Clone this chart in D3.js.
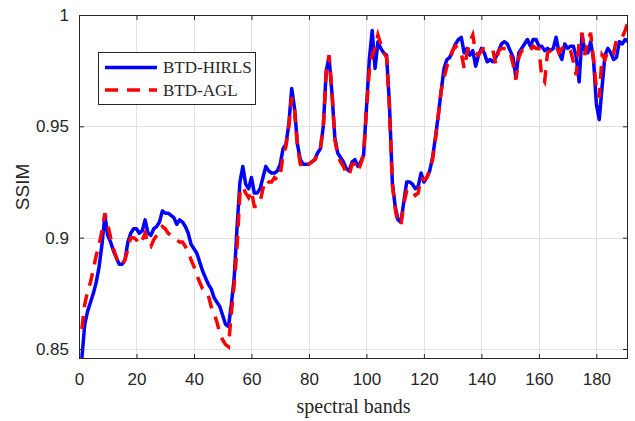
<!DOCTYPE html>
<html>
<head>
<meta charset="utf-8">
<script src="https://cdn.jsdelivr.net/npm/d3@7"></script>
<style>
  html, body { margin: 0; padding: 0; background: #fff; }
  svg { display: block; }
</style>
</head>
<body>
<svg id="chart" width="635" height="421"></svg>
<script>
// SSIM per spectral band for the two reconstruction methods
const bandCount = 191;
const bands = d3.range(1, bandCount + 1);

const hirls = [
  0.846, 0.861, 0.867, 0.871, 0.875, 0.880, 0.887, 0.897, 0.910, 0.901,
  0.898, 0.894, 0.891, 0.888, 0.888, 0.890, 0.898, 0.902, 0.904, 0.904,
  0.902, 0.903, 0.908, 0.902, 0.901, 0.904, 0.905, 0.907, 0.912, 0.911,
  0.911, 0.910, 0.909, 0.906, 0.908, 0.907, 0.905, 0.902, 0.897, 0.895,
  0.893, 0.889, 0.885, 0.882, 0.879, 0.877, 0.873, 0.871, 0.869, 0.865,
  0.861, 0.860, 0.870, 0.882, 0.905, 0.925, 0.932, 0.924, 0.922, 0.927,
  0.920, 0.920, 0.922, 0.927, 0.932, 0.930, 0.929, 0.929, 0.930, 0.933,
  0.940, 0.942, 0.951, 0.967, 0.958, 0.942, 0.935, 0.933, 0.933, 0.933,
  0.934, 0.935, 0.938, 0.940, 0.950, 0.975, 0.981, 0.965, 0.945, 0.938,
  0.936, 0.934, 0.931, 0.930, 0.934, 0.935, 0.932, 0.934, 0.937, 0.958,
  0.980, 0.993, 0.976, 0.988, 0.985, 0.983, 0.982, 0.960, 0.925, 0.914,
  0.908, 0.907, 0.916, 0.925, 0.925, 0.924, 0.922, 0.923, 0.929, 0.925,
  0.927, 0.930, 0.936, 0.945, 0.955, 0.966, 0.976, 0.980, 0.981, 0.984,
  0.987, 0.989, 0.990, 0.983, 0.985, 0.982, 0.984, 0.977, 0.982, 0.985,
  0.983, 0.979, 0.980, 0.979, 0.981, 0.984, 0.987, 0.988, 0.987, 0.984,
  0.981, 0.972, 0.983, 0.985, 0.987, 0.989, 0.986, 0.989, 0.989, 0.986,
  0.986, 0.984, 0.985, 0.984, 0.985, 0.990, 0.983, 0.980, 0.987, 0.985,
  0.986, 0.986, 0.981, 0.970, 0.991, 0.984, 0.983, 0.988, 0.980, 0.960,
  0.953, 0.968, 0.982, 0.985, 0.983, 0.980, 0.981, 0.988, 0.987, 0.989,
  0.988
];

const agl = [
  0.859, 0.870, 0.876, 0.880, 0.886, 0.892, 0.897, 0.903, 0.911, 0.906,
  0.900, 0.895, 0.891, 0.888, 0.888, 0.890, 0.895, 0.900, 0.900, 0.899,
  0.897, 0.899, 0.902, 0.897, 0.896, 0.899, 0.901, 0.903, 0.905, 0.904,
  0.902, 0.901, 0.900, 0.899, 0.898, 0.898, 0.896, 0.894, 0.890, 0.887,
  0.883, 0.880, 0.877, 0.876, 0.874, 0.869, 0.866, 0.862, 0.857, 0.854,
  0.852, 0.851, 0.866, 0.879, 0.896, 0.920, 0.923, 0.920, 0.918, 0.921,
  0.914, 0.914, 0.916, 0.922, 0.926, 0.925, 0.925, 0.927, 0.926, 0.928,
  0.937, 0.941, 0.950, 0.963, 0.957, 0.941, 0.933, 0.931, 0.932, 0.933,
  0.934, 0.935, 0.937, 0.940, 0.950, 0.974, 0.982, 0.966, 0.944, 0.937,
  0.934, 0.932, 0.929, 0.928, 0.933, 0.933, 0.930, 0.933, 0.937, 0.957,
  0.975, 0.982, 0.985, 0.991, 0.987, 0.983, 0.981, 0.958, 0.924, 0.913,
  0.906, 0.906, 0.915, 0.921, 0.922, 0.921, 0.919, 0.920, 0.927, 0.926,
  0.927, 0.930, 0.935, 0.944, 0.955, 0.966, 0.972, 0.977, 0.980, 0.984,
  0.986, 0.985, 0.983, 0.976, 0.983, 0.988, 0.991, 0.983, 0.982, 0.984,
  0.985, 0.985, 0.985, 0.984, 0.978, 0.984, 0.985, 0.985, 0.985, 0.983,
  0.978, 0.971, 0.981, 0.984, 0.984, 0.985, 0.984, 0.986, 0.985, 0.985,
  0.972, 0.970, 0.983, 0.984, 0.986, 0.986, 0.983, 0.985, 0.986, 0.986,
  0.984, 0.979, 0.973, 0.988, 0.992, 0.982, 0.988, 0.992, 0.980, 0.967,
  0.963, 0.982, 0.980, 0.984, 0.984, 0.983, 0.989, 0.989, 0.990, 0.993,
  0.997
];

const seriesNames = ["BTD-HIRLS", "BTD-AGL"];
const xTicks = [0, 20, 40, 60, 80, 100, 120, 140, 160, 180];
const yTicks = [0.85, 0.9, 0.95, 1];
const yTickLabels = ["0.85", "0.9", "0.95", "1"];

// layout
const plot = { left: 79, right: 628, top: 15, bottom: 359 };
const axisColor = "#262626";
const gridColor = "#e3e3e3";
const sans = "'Liberation Sans', Arial, Helvetica, sans-serif";
const serif = "'Liberation Serif', 'Times New Roman', serif";

const svg = d3.select("#chart");

const x = d3.scaleLinear().domain([0, bandCount]).range([plot.left, plot.right]);
const y = d3.scaleLinear().domain([0.8455, 1]).range([plot.bottom, plot.top]);

// grid
const grid = svg.append("g").attr("stroke", gridColor).attr("stroke-width", 1);
grid.selectAll("line.gx").data(xTicks.filter(t => t > 0)).join("line")
  .attr("x1", d => Math.round(x(d)) + 0.5).attr("x2", d => Math.round(x(d)) + 0.5)
  .attr("y1", plot.top).attr("y2", plot.bottom);
grid.selectAll("line.gy").data(yTicks.filter(t => t < 1)).join("line")
  .attr("y1", d => Math.round(y(d)) + 0.5).attr("y2", d => Math.round(y(d)) + 0.5)
  .attr("x1", plot.left).attr("x2", plot.right);

// clip for the curves
svg.append("defs").append("clipPath").attr("id", "plotClip")
  .append("rect")
  .attr("x", plot.left).attr("y", plot.top)
  .attr("width", plot.right - plot.left).attr("height", plot.bottom - plot.top);

const line = d3.line()
  .x((d, i) => x(bands[i]))
  .y(d => y(d));

const curves = svg.append("g").attr("clip-path", "url(#plotClip)");
curves.append("path")
  .datum(hirls)
  .attr("d", line)
  .attr("fill", "none")
  .attr("stroke", "#0000ff")
  .attr("stroke-width", 3.5)
  .attr("stroke-linejoin", "round");
curves.append("path")
  .datum(agl)
  .attr("d", line)
  .attr("fill", "none")
  .attr("stroke", "#ff0000")
  .attr("stroke-width", 3.5)
  .attr("stroke-dasharray", "13,9");

// axes: box with inward ticks on all sides
const tickLen = 5;
const xAxisBottom = d3.axisBottom(x).tickValues(xTicks).tickSizeInner(-tickLen).tickSizeOuter(0)
  .tickFormat(d3.format("d")).tickPadding(14);
const xAxisTop = d3.axisTop(x).tickValues(xTicks).tickSizeInner(-tickLen).tickSizeOuter(0).tickFormat("");
const yAxisLeft = d3.axisLeft(y).tickValues(yTicks).tickSizeInner(-tickLen).tickSizeOuter(0)
  .tickFormat((d, i) => yTickLabels[i]).tickPadding(10);
const yAxisRight = d3.axisRight(y).tickValues(yTicks).tickSizeInner(-tickLen).tickSizeOuter(0).tickFormat("");

function styleAxis(g) {
  g.select(".domain").remove();
  g.selectAll(".tick line").attr("stroke", axisColor).attr("stroke-width", 1);
  g.selectAll(".tick text").attr("fill", axisColor)
    .style("font-family", sans).style("font-size", "17px");
}

svg.append("g").attr("transform", `translate(0,${plot.bottom})`).call(xAxisBottom).call(styleAxis);
svg.append("g").attr("transform", `translate(0,${plot.top})`).call(xAxisTop).call(styleAxis);
svg.append("g").attr("transform", `translate(${plot.left},0)`).call(yAxisLeft).call(styleAxis);
svg.append("g").attr("transform", `translate(${plot.right},0)`).call(yAxisRight).call(styleAxis);

svg.append("rect")
  .attr("x", plot.left + 0.5).attr("y", plot.top + 0.5)
  .attr("width", plot.right - plot.left - 1).attr("height", plot.bottom - plot.top - 1)
  .attr("fill", "none").attr("stroke", axisColor).attr("stroke-width", 1);

// axis titles
svg.append("text")
  .attr("x", (plot.left + plot.right) / 2).attr("y", 413)
  .attr("text-anchor", "middle")
  .attr("fill", axisColor)
  .style("font-family", serif).style("font-size", "20px")
  .text("spectral bands");

svg.append("text")
  .attr("transform", `translate(29,${(plot.top + plot.bottom) / 2}) rotate(-90)`)
  .attr("text-anchor", "middle")
  .attr("fill", axisColor)
  .style("font-family", sans).style("font-size", "19px")
  .text("SSIM");

// legend
const legend = svg.append("g");
legend.append("rect")
  .attr("x", 98.5).attr("y", 52.5).attr("width", 157).attr("height", 52)
  .attr("fill", "#fff").attr("stroke", axisColor).attr("stroke-width", 1);
const legendRows = [
  { name: seriesNames[0], color: "#0000ff", dash: null, y: 67.5 },
  { name: seriesNames[1], color: "#ff0000", dash: "13,9", y: 90 }
];
legendRows.forEach(r => {
  legend.append("line")
    .attr("x1", 105).attr("x2", 157).attr("y1", r.y).attr("y2", r.y)
    .attr("stroke", r.color).attr("stroke-width", 3.5)
    .attr("stroke-dasharray", r.dash);
  legend.append("text")
    .attr("x", 163).attr("y", r.y + 5.5)
    .attr("fill", axisColor)
    .style("font-family", serif).style("font-size", "17px")
    .text(r.name);
});
</script>
</body>
</html>
